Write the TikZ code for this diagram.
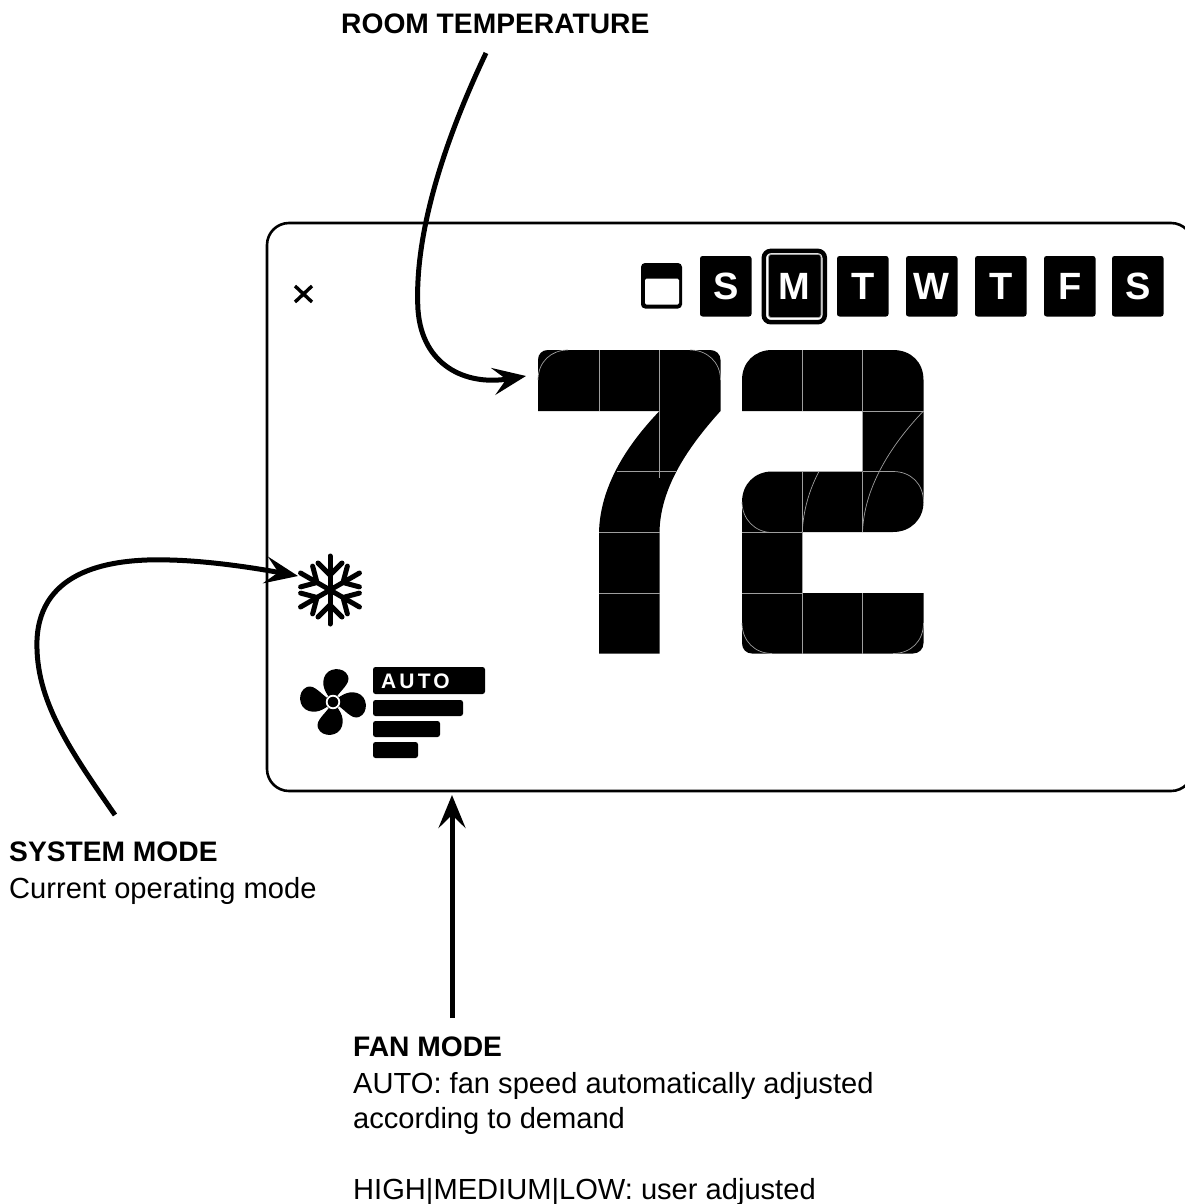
\documentclass[tikz,border=0pt]{standalone}
\usepackage{fontspec}
\setmainfont{Liberation Sans}
\usetikzlibrary{arrows.meta}
\definecolor{seam}{gray}{0.62}
\tikzset{
  label/.style={anchor=base west,inner sep=0pt,font=\fontsize{29.1}{32}\selectfont,text=black},
  labelb/.style={label,font=\fontsize{28.2}{32}\selectfont\bfseries},
  panel/.style={draw=black,line width=2.6pt,rounded corners=22pt},
  callout/.style={draw=black,line width=5pt,-{Stealth[length=33pt,width=27pt,inset=13pt]}},
  daybox/.style={fill=black,rounded corners=2.5pt},
  dayletter/.style={text=white,inner sep=0pt,font=\fontsize{38}{38}\selectfont\bfseries},
  seamline/.style={draw=seam,line width=.7pt},
  flake/.style={draw=black,line width=5pt,line cap=round},
  bar/.style={fill=black,rounded corners=2.5pt},
}
\newcommand{\daycell}[3]{%
  \fill[daybox] (#1,256) rectangle (#1+51.5,316.5);
  \node[dayletter] (day#3) at (#1+25.7,286.5) {#2};
}
\begin{document}
\begin{tikzpicture}[x=1pt,y=-1pt]
\useasboundingbox (0,0) rectangle (1185,1204);
% panel
\draw[panel] (267,223) rectangle (1193,791);
% close mark
\draw[black,line width=3.4pt] (295,286) -- (312,302) (312,286) -- (295,302);
% calendar icon
\fill[black,rounded corners=4pt] (641,263) rectangle (682,308.5);
\fill[white,rounded corners=1.5pt] (645,278.6) rectangle (679,304.6);
% days
\daycell{700}{S}{a}
\draw[black,line width=4.5pt,rounded corners=7pt] (763.8,250.9) rectangle (824.8,322.2);
\fill[daybox] (768.5,254.5) rectangle (821,317.5);
\draw[seam,line width=.8pt,rounded corners=2.5pt] (768.5,254.5) rectangle (821,317.5);
\node[dayletter] (dayb) at (794.6,286.5) {M};
\daycell{837}{T}{c}
\daycell{906}{W}{d}
\daycell{975}{T}{e}
\daycell{1044}{F}{f}
\daycell{1112}{S}{g}
% digit 7
\fill[black] (548,350) -- (710,350) .. controls (716,350) and (720.5,354) .. (720.5,360) -- (720.5,411)
  .. controls (688,447) and (660,488) .. (659.5,532.5) -- (659.5,653.5) -- (599,653.5) -- (599,532.5)
  .. controls (600,488) and (625,447) .. (659.5,411) -- (538,411) -- (538,360)
  .. controls (538,354) and (542,350) .. (548,350) -- cycle;
\draw[seamline] (538,380) .. controls (538,362) and (551,350) .. (568,350);
\draw[seamline] (690,350) .. controls (707,350) and (720.5,362) .. (720.5,380);
\draw[seamline] (599,350) -- (599,411) (659.5,350) -- (659.5,478);
\draw[seamline] (617,471.5) -- (676,471.5) (599,532.5) -- (659.5,532.5) (599,593) -- (659.5,593);
% digit 2
\fill[black] (742,411) -- (742,380) .. controls (742,362) and (755,350) .. (772,350) -- (893,350)
  .. controls (911,350) and (923.5,362) .. (923.5,380) -- (923.5,502)
  .. controls (923.5,519) and (911,532) .. (893,532) -- (802.3,532) -- (802.3,593) -- (923.5,593) -- (923.5,643)
  .. controls (923.5,649) and (919,653.5) .. (913,653.5) -- (752,653.5)
  .. controls (746,653.5) and (742,649) .. (742,643) -- (742,502)
  .. controls (742,484) and (755,471.5) .. (772,471.5) -- (862.5,471.5) -- (862.5,411) -- cycle;
\draw[seamline] (802.3,350) -- (802.3,411) (862.5,350) -- (862.5,411) -- (923.5,411);
\draw[seamline] (923.5,411) .. controls (888,448) and (864,490) .. (862.5,532);
\draw[seamline] (819,471.5) .. controls (809,490) and (803,512) .. (802.3,532);
\draw[seamline] (802.3,471.5) -- (802.3,532) (862.5,471.5) -- (862.5,532);
\draw[seamline] (862.5,471.5) -- (893,471.5) .. controls (911,471.5) and (923.5,484) .. (923.5,502);
\draw[seamline] (742,502) .. controls (742,519) and (755,532.5) .. (772,532.5) -- (802.3,532.5);
\draw[seamline] (742,532.5) -- (772,532.5) (742,593) -- (802.3,593);
\draw[seamline] (802.3,593) -- (802.3,653.5) (862.5,593) -- (862.5,653.5);
\draw[seamline] (742,623) .. controls (742,641) and (755,653.5) .. (772,653.5);
\draw[seamline] (893,653.5) .. controls (911,653.5) and (923.5,641) .. (923.5,623);
% snowflake
\begin{scope}[shift={(330,590)}]
\foreach \a in {0,60,...,300}{
  \begin{scope}[rotate=\a]
    \draw[flake] (0,0) -- (0,-34);
    \draw[flake] (0,-15) -- (-12,-27) (0,-15) -- (12,-27);
  \end{scope}
}
\end{scope}
% fan
\begin{scope}[shift={(333,702)}]
\foreach \a in {0,90,180,270}{
  \fill[black,rotate=\a] (0,0) .. controls (-5,-6) and (-12,-14) .. (-9,-24)
    .. controls (-6,-35) and (11,-36) .. (15,-26)
    .. controls (18,-18) and (7,-12) .. (0,0) -- cycle;
}
\fill[black] (0,0) circle (7.5pt);
\draw[white,line width=1.8pt] (0,0) circle (6.3pt);
\end{scope}
% fan bars
\fill[bar] (373,667) rectangle (485,694);
\node[inner sep=0pt,anchor=base west,text=white,font=\fontsize{21}{21}\selectfont\bfseries] (autotag) at (381,688) {\addfontfeature{LetterSpace=15}AUTO};
\fill[bar] (373,700) rectangle (463,716);
\fill[bar] (373,721) rectangle (440,737);
\fill[bar] (373,742) rectangle (418,758);
% labels
\node[labelb] (roomlabel) at (341,34) {ROOM TEMPERATURE};
\node[labelb] (syslabel) at (9,861.5) {SYSTEM MODE};
\node[label] (sysdesc) at (9,898) {Current operating mode};
\node[labelb] (fanlabel) at (353,1056.5) {FAN MODE};
\node[label] (fana) at (353,1093) {AUTO: fan speed automatically adjusted};
\node[label] (fanb) at (353,1128) {according to demand};
\node[label] (fanc) at (353,1199) {HIGH|MEDIUM|LOW: user adjusted};
% connectors
\coordinate (roomstart) at (486,53);
\coordinate (roomend) at (526,376);
\coordinate (sysstart) at (115,815);
\coordinate (sysend) at (298,576);
\coordinate (fanstart) at (452,1018);
\coordinate (fanend) at (452,795);
\draw[callout] (roomstart) .. controls (440,150) and (414,240) .. (418,310)
  .. controls (422,365) and (465,386) .. (roomend);
\draw[callout] (sysstart) .. controls (70,750) and (35,700) .. (37,640)
  .. controls (40,570) and (110,558) .. (170,560) .. controls (210,561) and (255,568) .. (sysend);
\draw[callout] (fanstart) -- (fanend);
\end{tikzpicture}
\end{document}
